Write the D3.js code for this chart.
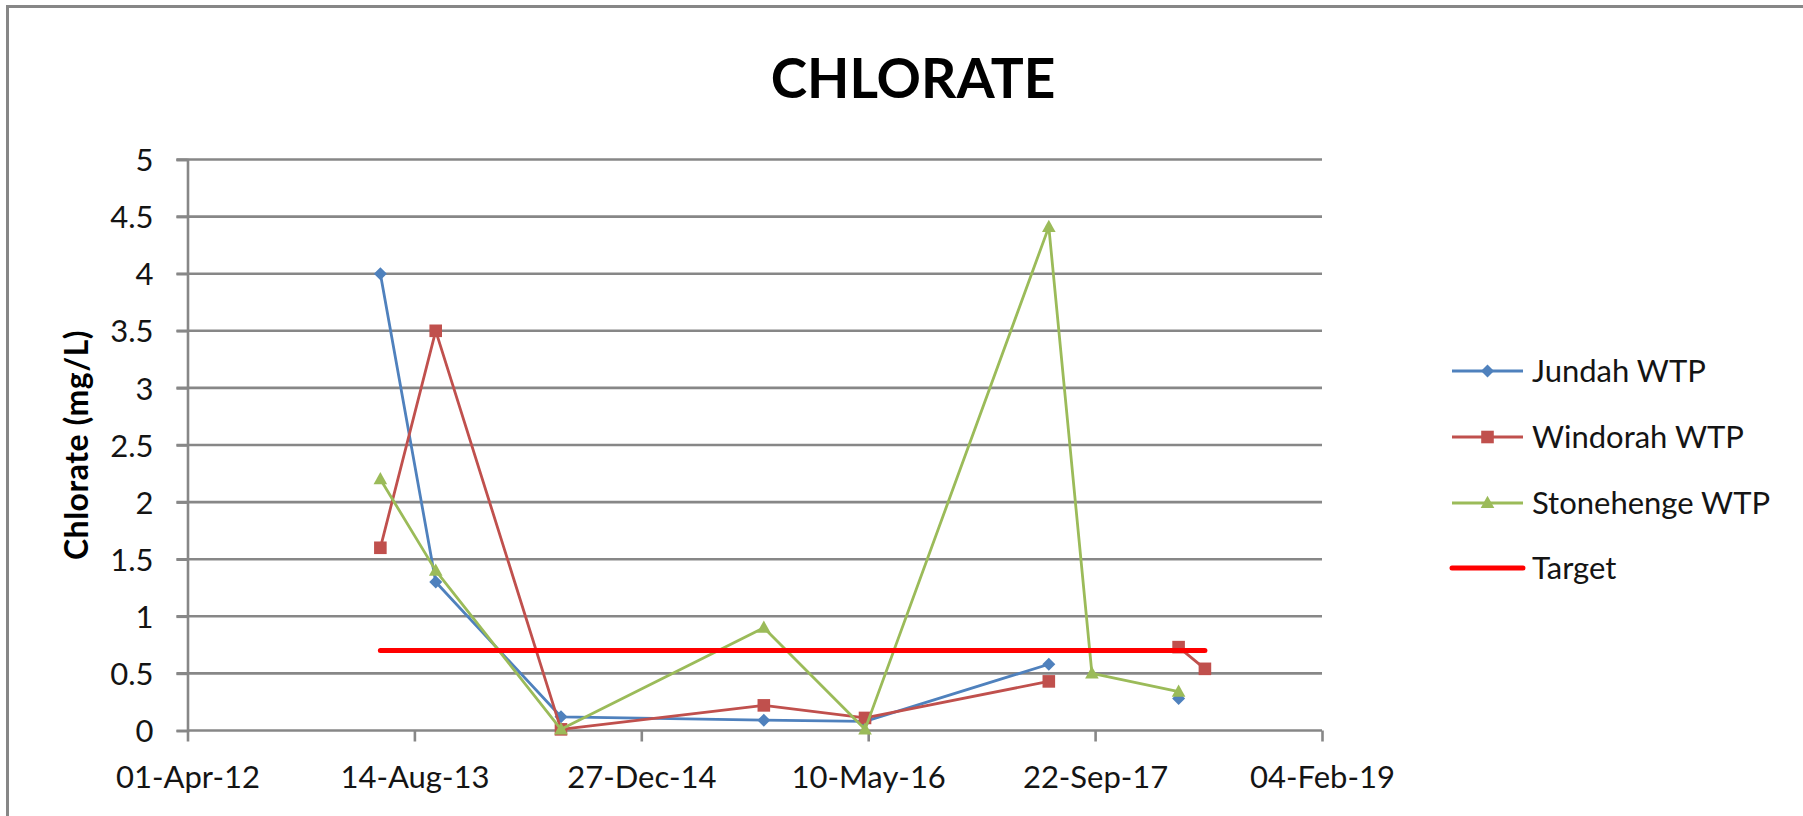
<!DOCTYPE html>
<html>
<head>
<meta charset="utf-8">
<script src="https://cdn.jsdelivr.net/npm/d3@7"></script>
<style>
  html, body { margin: 0; padding: 0; background: #fff; overflow: hidden; }
  svg { display: block; }
  text { font-family: Lato, "Open Sans", sans-serif; fill: #141414; }
</style>
</head>
<body>
<svg id="chart" width="1803" height="816"></svg>
<script>
// ---- data ----
const dates = ["2013-05-31", "2013-09-30", "2014-07-03", "2015-09-23", "2016-05-03",
               "2017-06-12", "2017-09-15", "2018-03-25", "2018-05-22"];
const jundah     = [4.0, 1.3, 0.12, 0.09, 0.08, 0.58, null, 0.28, null];
const windorah   = [1.6, 3.5, 0.01, 0.22, 0.11, 0.43, null, 0.73, 0.54];
const stonehenge = [2.2, 1.4, 0.01, 0.90, 0.01, 4.41, 0.50, 0.34, null];
const target     = [0.7, 0.7, 0.7, 0.7, 0.7, 0.7, 0.7, 0.7, 0.7];
const seriesNames = ["Jundah WTP", "Windorah WTP", "Stonehenge WTP", "Target"];
const yTicks = [0, 0.5, 1, 1.5, 2, 2.5, 3, 3.5, 4, 4.5, 5];
const xTickLabels = ["01-Apr-12", "14-Aug-13", "27-Dec-14", "10-May-16", "22-Sep-17", "04-Feb-19"];
const chartTitle = "CHLORATE";
const yTitle = "Chlorate (mg/L)";

// ---- setup ----
const parse = d3.utcParse("%Y-%m-%d");
const parseTick = d3.utcParse("%d-%b-%y");
const fmt = d3.utcFormat("%d-%b-%y");
const xDates = dates.map(parse);
const xTickDates = xTickLabels.map(parseTick);

const svg = d3.select("#chart");
const pLeft = 187.5, pRight = 1322, pTop = 159.5, pBottom = 730.5;

const x = d3.scaleUtc().domain([xTickDates[0], xTickDates[xTickDates.length - 1]]).range([pLeft, pRight]);
const y = d3.scaleLinear().domain([0, 5]).range([pBottom, pTop]);

const gridColor = "#878787";

// chart border (partially visible)
svg.append("path")
  .attr("d", `M7.5,830 L7.5,6.5 L1820,6.5`)
  .attr("fill", "none").attr("stroke", gridColor).attr("stroke-width", 3);

// title
svg.append("text")
  .attr("x", 913).attr("y", 97.5)
  .attr("text-anchor", "middle")
  .style("font-weight", "bold").style("font-size", "55px")
  .style("fill", "#000")
  .text(chartTitle);

// gridlines
svg.append("g").selectAll("line").data(yTicks.filter(d => d > 0)).join("line")
  .attr("x1", pLeft - 11).attr("x2", pRight)
  .attr("y1", d => y(d)).attr("y2", d => y(d))
  .attr("stroke", gridColor).attr("stroke-width", 2.6);

// y axis
const yAxis = d3.axisLeft(y).tickValues(yTicks).tickSize(11).tickPadding(23)
  .tickFormat(d3.format("~g"));
const gy = svg.append("g").attr("transform", `translate(${pLeft},0)`).call(yAxis);
gy.select(".domain").attr("stroke", gridColor).attr("stroke-width", 2.6);
gy.selectAll(".tick line").attr("stroke", gridColor).attr("stroke-width", 2.6);
gy.selectAll(".tick text").style("font-size", "31px").style("font-family", "Lato, sans-serif")
  .attr("fill", "#141414").attr("dy", "0.36em");

// x axis
const xAxis = d3.axisBottom(x).tickValues(xTickDates).tickSize(11).tickPadding(24).tickFormat(fmt);
const gx = svg.append("g").attr("transform", `translate(0,${pBottom})`).call(xAxis);
gx.select(".domain").attr("stroke", gridColor).attr("stroke-width", 2.6)
  .attr("d", `M${pLeft},0H${pRight}`);
gx.selectAll(".tick line").attr("stroke", gridColor).attr("stroke-width", 2.6);
gx.selectAll(".tick text").style("font-size", "31px").style("font-family", "Lato, sans-serif")
  .attr("fill", "#141414").attr("dy", "0.71em");

// y title
svg.append("text")
  .attr("transform", `translate(88,${(pTop + pBottom) / 2}) rotate(-90)`)
  .attr("text-anchor", "middle")
  .style("font-weight", "bold").style("font-size", "32px")
  .style("letter-spacing", "0.5px")
  .style("fill", "#000")
  .text(yTitle);

// series
const colors = ["#4F81BD", "#C0504D", "#9BBB59", "#FF0000"];
const valuesList = [jundah, windorah, stonehenge, target];
const markers = ["diamond", "square", "triangle", null];

function diamond(r) { return `M0,${-r}L${r},0L0,${r}L${-r},0Z`; }
function square(h) { return `M${-h},${-h}H${h}V${h}H${-h}Z`; }
function triangle(h) { return `M0,${-h * 1.05}L${h},${h * 0.75}L${-h},${h * 0.75}Z`; }
function shape(type) {
  if (type === "diamond") return diamond(6.5);
  if (type === "square") return square(6.3);
  if (type === "triangle") return triangle(6.8);
  return null;
}

const line = d3.line()
  .defined(d => d.v !== null)
  .x(d => x(d.date)).y(d => y(d.v));

const plot = svg.append("g");
valuesList.forEach((vals, i) => {
  const pts = vals.map((v, j) => ({ date: xDates[j], v }));
  const isTarget = i === 3;
  plot.append("path")
    .datum(isTarget ? pts.filter(d => d.v !== null) : pts)
    .attr("d", line)
    .attr("fill", "none")
    .attr("stroke", colors[i])
    .attr("stroke-width", isTarget ? 5 : 2.8)
    .attr("stroke-linecap", "round")
    .attr("stroke-linejoin", "round");
  if (markers[i]) {
    plot.append("g").selectAll("path").data(pts.filter(d => d.v !== null)).join("path")
      .attr("transform", d => `translate(${x(d.date)},${y(d.v)})`)
      .attr("d", shape(markers[i]))
      .attr("fill", colors[i]);
  }
});

// legend
const legY = [371, 437, 503, 568];
const leg = svg.append("g");
seriesNames.forEach((name, i) => {
  const g = leg.append("g").attr("transform", `translate(0,${legY[i]})`);
  g.append("line").attr("x1", 1452).attr("x2", 1523).attr("y1", 0).attr("y2", 0)
    .attr("stroke", colors[i]).attr("stroke-width", i === 3 ? 5 : 3)
    .attr("stroke-linecap", i === 3 ? "round" : "butt");
  if (markers[i]) {
    g.append("path").attr("transform", "translate(1487.5,0)").attr("d", shape(markers[i])).attr("fill", colors[i]);
  }
  g.append("text").attr("x", 1532).attr("y", 0).attr("dy", "0.36em")
    .style("font-size", "31px").text(name);
});
</script>
</body>
</html>
